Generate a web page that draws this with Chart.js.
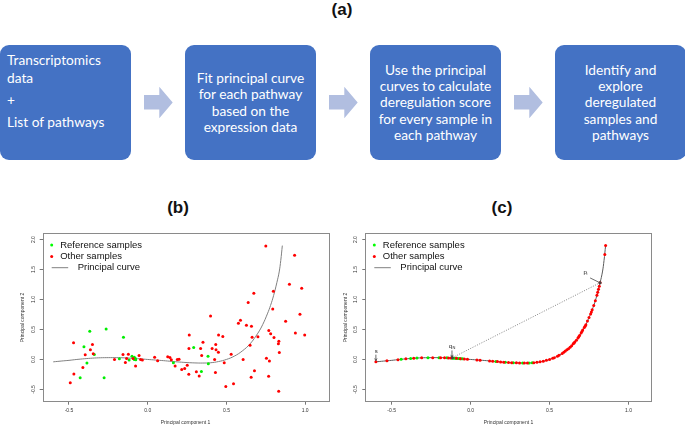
<!DOCTYPE html>
<html>
<head>
<meta charset="utf-8">
<script src="https://cdn.jsdelivr.net/npm/chart.js@4.4.1/dist/chart.umd.min.js"></script>
<style>
  body { margin: 0; background: #fff; width: 685px; height: 426px; position: relative; overflow: hidden;
         font-family: "Liberation Sans", Arial, sans-serif; }
  .panel { position: absolute; font-weight: bold; font-size: 17px; transform: translate(-50%, -50%); color: #111; }
  .box { position: absolute; top: 45px; width: 131px; height: 115px; background: #4472c4; border-radius: 9px;
         color: #fff; font-family: Lato, "Open Sans", sans-serif; font-size: 13.7px; box-sizing: border-box; }
  .box.mid { display: flex; align-items: center; justify-content: center; text-align: center; line-height: 16.2px; }
  .box.first { padding: 6px 0 0 7px; line-height: 17.7px; }
  .box.first p { margin: 0; }
  .box.first p + p { margin-top: 4.6px; }
  .arrow { position: absolute; top: 86.7px; width: 28.7px; height: 31.6px; background: #b1bee0;
           clip-path: polygon(0 8.3px, 15.3px 8.3px, 15.3px 0, 28.7px 15.8px, 15.3px 31.6px, 15.3px 22.8px, 0 22.8px); }
  canvas { position: absolute; }
</style>
</head>
<body>
<div class="panel" style="left:342px; top:10px;">(a)</div>
<div class="panel" style="left:178px; top:208px;">(b)</div>
<div class="panel" style="left:502px; top:208px;">(c)</div>

<div class="box first" style="left:0px;">
  <p>Transcriptomics<br>data</p>
  <p>+</p>
  <p>List of pathways</p>
</div>
<div class="arrow" style="left:144px;"></div>
<div class="box mid" style="left:185px;"><div>Fit principal curve<br>for each pathway<br>based on the<br>expression data</div></div>
<div class="arrow" style="left:329px;"></div>
<div class="box mid" style="left:370px;"><div>Use the principal<br>curves to calculate<br>deregulation score<br>for every sample in<br>each pathway</div></div>
<div class="arrow" style="left:514px;"></div>
<div class="box mid" style="left:555px;"><div>Identify and<br>explore<br>deregulated<br>samples and<br>pathways</div></div>

<canvas id="plotB" width="345" height="201" style="left:0px; top:225px;"></canvas>
<canvas id="plotC" width="362" height="201" style="left:323px; top:225px;"></canvas>

<script>
// axis ticks
const xTicks = [-0.5, 0, 0.5, 1];
const yTicks = [-0.5, 0, 0.5, 1, 1.5, 2];

// (b) raw samples
const refBX = [-0.264, -0.368, -0.154, -0.405, -0.339, -0.386, -0.429, -0.277, -0.18, -0.118, -0.1, -0.085, -0.078, -0.085, -0.076, 0.163, 0.292, 0.383, 0.385, 0.341];
const refBY = [0.51, 0.472, 0.371, 0.21, 0.083, -0.061, -0.305, -0.305, 0.011, -0.011, 0.055, 0.038, 0.016, 0.0, -0.005, -0.055, 0.199, 0.055, -0.072, -0.2];

const otherBX = [0.75, 0.933, 0.9, 0.978, 0.798, 0.674, 0.638, 0.399, 0.967, 0.794, 0.876, 0.589, 0.576, 0.627, 0.659,
  0.769, 0.781, 0.802, 0.7, 0.663, 0.997, 0.938, 0.833, 0.83, 0.836, 0.65, 0.606, 0.53, 0.754, 0.773, 0.678, 0.657,
  0.768, 0.832, 0.545, 0.496, 0.264, 0.351, 0.45, 0.477, 0.432, 0.336, 0.262, 0.409, 0.434, 0.449, 0.343, 0.425,
  0.486, 0.43, 0.261, 0.327, 0.309, 0.251, 0.235, 0.216, 0.174, 0.199, 0.188, 0.141, 0.15, 0.127, 0.063, 0.044,
  -0.034, -0.045, -0.055, -0.077, -0.093, -0.123, -0.157, -0.142, -0.134, -0.211, -0.346, -0.397, -0.351, -0.364,
  -0.471, -0.412, -0.469, -0.492];
const otherBY = [1.893, 1.738, 1.255, 1.19, 1.138, 1.105, 0.95, 0.727, 0.755, 0.84, 0.638, 0.655, 0.605, 0.572, 0.555,
  0.483, 0.427, 0.366, 0.377, 0.372, 0.41, 0.44, 0.305, 0.26, 0.117, 0.237, 0.0, 0.088, 0.02, -0.025, -0.19, -0.295,
  -0.28, -0.53, -0.405, -0.45, 0.41, 0.288, 0.41, 0.383, 0.248, 0.182, 0.182, 0.182, 0.16, 0.122, 0.066, 0.0,
  -0.055, -0.216, -0.245, -0.278, -0.206, -0.095, -0.15, -0.167, -0.111, 0.005, 0.0, 0.033, -0.005, 0.044, -0.022, 0.038,
  -0.011, 0.0, 0.066, -0.111, 0.016, 0.088, 0.083, -0.05, 0.016, 0.0, 0.094, 0.077, 0.249, 0.16,
  0.277, -0.133, -0.244, -0.388];

// principal curve (both panels)
const curveX = [-0.6, -0.55, -0.5, -0.45, -0.4, -0.35, -0.3, -0.25, -0.2, -0.15, -0.1, -0.05, 0, 0.05, 0.1, 0.15, 0.2,
  0.25, 0.3, 0.35, 0.4, 0.45, 0.5, 0.55, 0.6, 0.65, 0.7, 0.73, 0.76, 0.78, 0.8, 0.82, 0.835, 0.845, 0.855];
const curveY = [-0.04, -0.027, -0.015, 0, 0.012, 0.022, 0.028, 0.03, 0.03, 0.027, 0.02, 0.01, 0, -0.01, -0.02, -0.032,
  -0.043, -0.052, -0.058, -0.06, -0.055, -0.035, 0, 0.055, 0.14, 0.26, 0.44, 0.58, 0.76, 0.9, 1.07, 1.28, 1.46, 1.65, 1.9];

// (c) samples projected on the curve
const refCX = [-0.44, -0.38, -0.34, -0.27, -0.2, -0.15, -0.12, -0.11, -0.1, -0.09, -0.08, -0.07, -0.06, -0.05,
  0.16, 0.22, 0.27, 0.33, 0.37, 0.39];
const refCY = [0.002, 0.016, 0.024, 0.029, 0.03, 0.027, 0.023, 0.022, 0.02, 0.018, 0.016, 0.014, 0.012, 0.01,
  -0.034, -0.047, -0.055, -0.06, -0.058, -0.056];
const otherCX = [-0.6, -0.53, -0.46, -0.41, -0.36, -0.31, -0.24, -0.19, -0.165, -0.14, -0.125, -0.09, -0.065, -0.04,
  -0.02, 0.04, 0.06, 0.12, 0.14, 0.17, 0.19, 0.21, 0.24, 0.26, 0.29, 0.31, 0.34, 0.36, 0.4, 0.42, 0.44, 0.46, 0.48,
  0.5, 0.52, 0.53, 0.55, 0.56, 0.58, 0.59, 0.6, 0.61, 0.62, 0.63, 0.64, 0.65, 0.655, 0.66, 0.67, 0.68, 0.685, 0.69,
  0.7, 0.705, 0.71, 0.72, 0.725, 0.73, 0.74, 0.75, 0.76, 0.765, 0.77, 0.78, 0.79, 0.8, 0.805, 0.81, 0.815, 0.82,
  0.85, 0.855];
const otherCY = [-0.04, -0.022, -0.003, 0.01, 0.02, 0.027, 0.03, 0.03, 0.028, 0.026, 0.024, 0.018, 0.013, 0.008,
  0.004, -0.008, -0.012, -0.025, -0.03, -0.036, -0.041, -0.045, -0.051, -0.053, -0.057, -0.059, -0.06, -0.059, -0.055,
  -0.048, -0.04, -0.028, -0.015, 0.0, 0.02, 0.03, 0.055, 0.07, 0.1, 0.12, 0.14, 0.16, 0.18, 0.205, 0.23, 0.26, 0.275,
  0.29, 0.32, 0.36, 0.38, 0.4, 0.44, 0.465, 0.49, 0.535, 0.555, 0.58, 0.64, 0.7, 0.76, 0.79, 0.83, 0.9, 0.98, 1.07,
  1.12, 1.17, 1.22, 1.28, 1.75, 1.9];

// q_N and p_i on the curve
const markX = [-0.115, 0.82];
const markY = [0.03, 1.28];

const pts = (xs, ys) => xs.map((x, i) => ({ x: x, y: ys[i] }));
const FONT = '"Liberation Sans", Arial, sans-serif';

function drawArrow(ctx, x1, y1, x2, y2) {
  ctx.beginPath(); ctx.moveTo(x1, y1); ctx.lineTo(x2, y2); ctx.stroke();
  const a = Math.atan2(y2 - y1, x2 - x1), h = 2.5;
  ctx.beginPath();
  ctx.moveTo(x2 - h * Math.cos(a - 0.5), y2 - h * Math.sin(a - 0.5));
  ctx.lineTo(x2, y2);
  ctx.lineTo(x2 - h * Math.cos(a + 0.5), y2 - h * Math.sin(a + 0.5));
  ctx.stroke();
}

// box, rotated y labels, axis titles and the legend
const frame = {
  id: 'frame',
  afterDraw(chart) {
    const { ctx, chartArea: a, scales: { y } } = chart;
    ctx.save();
    ctx.strokeStyle = '#8a8a8a'; ctx.lineWidth = 1;
    ctx.strokeRect(Math.round(a.left) + 0.5, Math.round(a.top) + 0.5,
      Math.round(a.right - a.left), Math.round(a.bottom - a.top));
    ctx.fillStyle = '#333';
    ctx.font = '5px ' + FONT;
    ctx.textAlign = 'center'; ctx.textBaseline = 'middle';
    y.ticks.forEach(t => {
      ctx.save();
      ctx.translate(a.left - 9.5, y.getPixelForValue(t.value));
      ctx.rotate(-Math.PI / 2);
      ctx.fillText(t.value.toFixed(1), 0, 0);
      ctx.restore();
    });
    ctx.save();
    ctx.translate(a.left - 20, (a.top + a.bottom) / 2);
    ctx.rotate(-Math.PI / 2);
    ctx.fillText('Principal component 2', 0, 0);
    ctx.restore();
    ctx.fillText('Principal component 1', (a.left + a.right) / 2, chart.height - 3.5);

    // legend
    const lx = a.left + 9, rows = [11.7, 23.2, 34.4];
    ctx.fillStyle = '#00ff00';
    ctx.beginPath(); ctx.arc(lx, a.top + rows[0], 1.5, 0, Math.PI * 2); ctx.fill();
    ctx.fillStyle = '#ff0000';
    ctx.beginPath(); ctx.arc(lx, a.top + rows[1], 1.5, 0, Math.PI * 2); ctx.fill();
    ctx.strokeStyle = '#808080';
    ctx.beginPath(); ctx.moveTo(lx, a.top + rows[2]); ctx.lineTo(lx + 16.5, a.top + rows[2]); ctx.stroke();
    ctx.fillStyle = '#111';
    ctx.font = '9.5px ' + FONT;
    ctx.textAlign = 'left';
    ctx.fillText('Reference samples', a.left + 17.5, a.top + rows[0]);
    ctx.fillText('Other samples', a.left + 17.5, a.top + rows[1]);
    ctx.fillText('Principal curve', a.left + 35, a.top + rows[2]);
    ctx.restore();
  }
};

// s, q_N, p_i labels in panel (c)
const notes = {
  id: 'notes',
  afterDraw(chart) {
    const { ctx, scales: { x, y } } = chart;
    const X = v => x.getPixelForValue(v), Y = v => y.getPixelForValue(v);
    ctx.save();
    ctx.strokeStyle = '#444'; ctx.fillStyle = '#222'; ctx.lineWidth = 0.8;
    ctx.font = '6px ' + FONT; ctx.textAlign = 'center'; ctx.textBaseline = 'middle';
    drawArrow(ctx, X(-0.6), Y(0.08), X(-0.6), Y(-0.02));
    ctx.fillText('s', X(-0.598), Y(0.135));
    drawArrow(ctx, X(-0.118), Y(0.15), X(-0.118), Y(0.04));
    ctx.fillText('q', X(-0.128), Y(0.22));
    ctx.font = '4px ' + FONT;
    ctx.fillText('N', X(-0.106), Y(0.195));
    ctx.beginPath(); ctx.moveTo(X(0.757), Y(1.36)); ctx.lineTo(X(0.815), Y(1.285)); ctx.stroke();
    ctx.font = '6px ' + FONT;
    ctx.fillText('p', X(0.725), Y(1.46));
    ctx.font = '4px ' + FONT;
    ctx.fillText('i', X(0.737), Y(1.43));
    ctx.restore();
  }
};

function makePlot(id, datasets, padRight, yWidth, extra) {
  return new Chart(document.getElementById(id), {
    type: 'scatter',
    data: { datasets: datasets },
    options: {
      responsive: false,
      animation: false,
      events: [],
      layout: { padding: { top: 8.3, right: padRight, left: 0, bottom: 0 } },
      plugins: { legend: { display: false }, tooltip: { enabled: false } },
      scales: {
        x: {
          type: 'linear', min: -0.667, max: 1.147,
          afterBuildTicks: s => { s.ticks = xTicks.map(v => ({ value: v })); },
          afterFit: s => { s.height = 24.3; },
          ticks: { callback: v => v.toFixed(1), font: { size: 5, family: FONT }, color: '#333', padding: 3,
                   maxRotation: 0, autoSkip: false },
          grid: { drawOnChartArea: false, tickLength: 3, color: '#777' },
          border: { display: false }
        },
        y: {
          type: 'linear', min: -0.705, max: 2.105,
          afterBuildTicks: s => { s.ticks = yTicks.map(v => ({ value: v })); },
          afterFit: s => { s.width = yWidth; },
          ticks: { color: 'rgba(0,0,0,0)', font: { size: 5, family: FONT } },
          grid: { drawOnChartArea: false, tickLength: 3, color: '#777' },
          border: { display: false }
        }
      }
    },
    plugins: [frame].concat(extra)
  });
}

const dot = (data, color) => ({ data: data, backgroundColor: color, borderWidth: 0, pointRadius: 1.5, showLine: false });

makePlot('plotB', [
  dot(pts(otherBX, otherBY), '#ff0000'),
  dot(pts(refBX, refBY), '#00ee00'),
  { data: pts(curveX, curveY), showLine: true, borderColor: '#808080', borderWidth: 1, pointRadius: 0, tension: 0.4, fill: false }
], 16.7, 42.7, []);

makePlot('plotC', [
  dot(pts(markX, markY), '#444444'),
  dot(pts(otherCX, otherCY), '#ff0000'),
  dot(pts(refCX, refCY), '#00ee00'),
  { data: pts(markX, markY), showLine: true, borderColor: '#666', borderWidth: 0.8, borderDash: [1, 1.5], pointRadius: 0, fill: false },
  { data: pts(curveX, curveY), showLine: true, borderColor: '#5a5a5a', borderWidth: 1, pointRadius: 0, tension: 0.4, fill: false }
], 33.3, 42.3, [notes]);
</script>
</body>
</html>
